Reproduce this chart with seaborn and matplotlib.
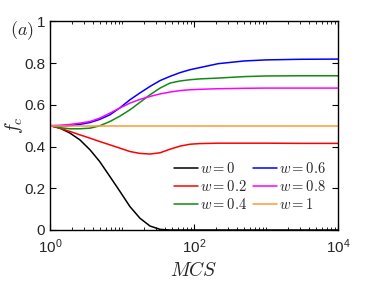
import numpy as np
import pandas as pd
import seaborn as sns
import matplotlib
matplotlib.use("Agg")
import matplotlib.pyplot as plt
from matplotlib.ticker import FixedLocator, LogLocator, NullFormatter

# values
mcs = [1, 1.38, 1.9, 2.6, 3.6, 4.9, 6.8, 9.4, 12.9, 17.8, 24.5, 33.8, 46.4, 64, 88, 120, 217,
       500, 1000, 3000, 10000]

fc_w0 = [0.5, 0.488, 0.464, 0.432, 0.384, 0.328, 0.256, 0.184, 0.112, 0.056, 0.019, 0.003, 0.0,
         0.0, 0.0, 0.0, 0.0, 0.0, 0.0, 0.0, 0.0]
fc_w02 = [0.5, 0.487, 0.472, 0.456, 0.44, 0.424, 0.408, 0.392, 0.376, 0.367, 0.364, 0.370, 0.387,
          0.402, 0.411, 0.414, 0.416, 0.416, 0.416, 0.415, 0.415]
fc_w04 = [0.5, 0.490, 0.485, 0.485, 0.488, 0.499, 0.520, 0.546, 0.576, 0.612, 0.648, 0.680, 0.704,
          0.714, 0.720, 0.724, 0.728, 0.735, 0.738, 0.739, 0.739]
fc_w06 = [0.5, 0.498, 0.500, 0.506, 0.515, 0.530, 0.552, 0.586, 0.624, 0.657, 0.688, 0.716, 0.736,
          0.754, 0.768, 0.778, 0.797, 0.810, 0.815, 0.818, 0.819]
fc_w08 = [0.5, 0.502, 0.506, 0.512, 0.520, 0.536, 0.560, 0.585, 0.608, 0.626, 0.640, 0.652, 0.661,
          0.668, 0.672, 0.674, 0.677, 0.679, 0.680, 0.680, 0.680]
fc_w1 = [0.5] * len(mcs)

labels = [r'$w=0$', r'$w=0.2$', r'$w=0.4$', r'$w=0.6$', r'$w=0.8$', r'$w=1$']
series = [fc_w0, fc_w02, fc_w04, fc_w06, fc_w08, fc_w1]
colors = ['black', '#ff0000', '#138a13', '#0000ff', '#ff00ff', '#ff9933']

y_ticks = [0, 0.2, 0.4, 0.6, 0.8, 1]
y_ticklabels = ['0', '0.2', '0.4', '0.6', '0.8', '1']
x_ticks = [1, 100, 10000]
x_ticklabels = [r'$\mathregular{10^{0}}$', r'$\mathregular{10^{2}}$', r'$\mathregular{10^{4}}$']

sns.set_style('ticks')
plt.rcParams['font.family'] = ['Liberation Sans', 'DejaVu Sans']
plt.rcParams['mathtext.fontset'] = 'cm'
plt.rcParams['font.size'] = 11

fig = plt.figure(figsize=(3.74, 2.81), dpi=100)
ax = fig.add_axes([0.1337, 0.1815, 0.77, 0.7427])

for vals, lab, col in zip(series, labels, colors):
    sns.lineplot(x=mcs, y=vals, color=col, label=lab, linewidth=1.1, ax=ax)

ax.set_xscale('log')
ax.set_xlim(1, 10000)
ax.set_ylim(0, 1)
ax.xaxis.set_major_locator(FixedLocator(x_ticks))
ax.set_xticklabels(x_ticklabels)
ax.xaxis.set_minor_locator(LogLocator(base=10, subs=np.arange(1, 10)))
ax.xaxis.set_minor_formatter(NullFormatter())
ax.set_yticks(y_ticks)
ax.set_yticklabels(y_ticklabels)

ax.tick_params(which='both', direction='in', top=True, right=True, colors='black', labelcolor='#262626')
ax.tick_params(which='major', length=4, width=0.8, labelsize=11)
ax.tick_params(which='minor', length=2, width=0.6)
ax.tick_params(axis='x', pad=5)
for s in ax.spines.values():
    s.set_linewidth(1.0)
    s.set_color('black')

ax.set_xlabel(r'$MCS$', fontsize=14, color='#262626')
ax.set_ylabel(r'$f_c$', fontsize=14, color='#262626')
ax.xaxis.set_label_coords(0.5, -0.15)
ax.yaxis.set_label_coords(-0.088, 0.5)
fig.text(0.059, 0.89, r'$(a)$', fontsize=13, ha='center', va='center')

ax.legend(ncol=2, frameon=False, loc='upper left', bbox_to_anchor=(0.43, 0.33),
          fontsize=10.5, handlelength=1.65, handletextpad=0.15, columnspacing=0.4,
          labelspacing=0.2, borderpad=0, borderaxespad=0)

plt.savefig('out.png', dpi=100)
